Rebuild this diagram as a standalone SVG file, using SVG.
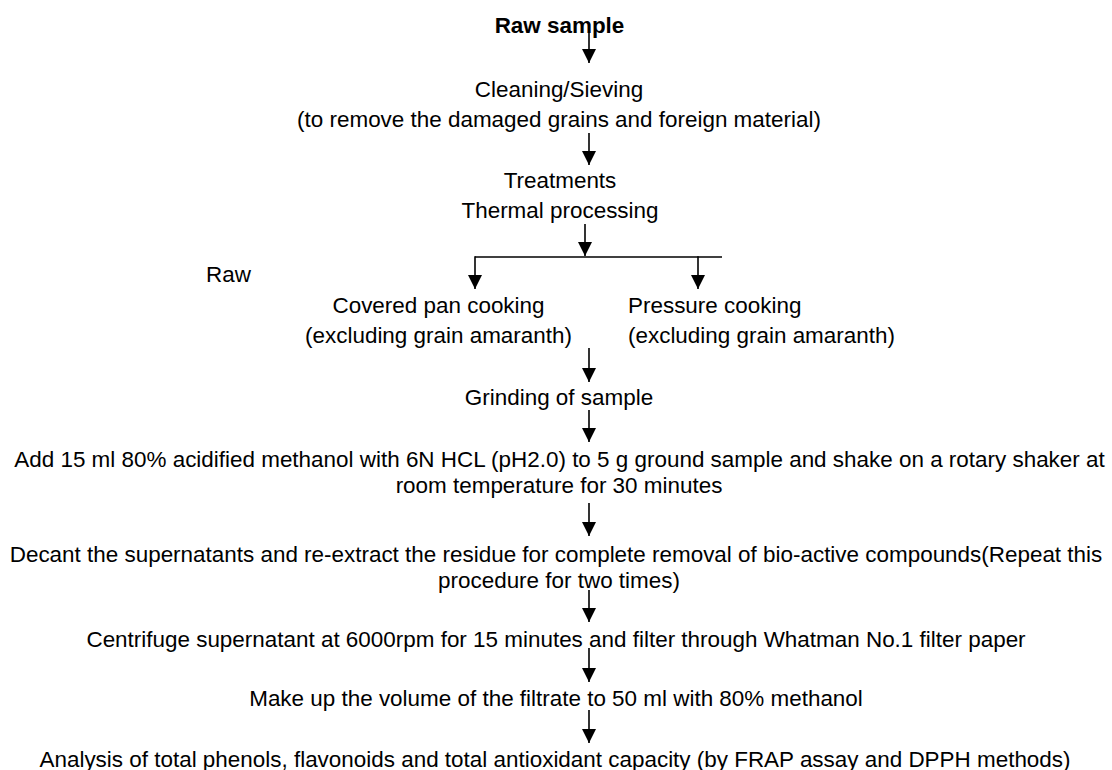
<svg xmlns="http://www.w3.org/2000/svg" width="1112" height="770" viewBox="0 0 1112 770">
<style>
text{font-family:"Liberation Sans",Arial,sans-serif;font-size:22.45px;fill:#000}
.c{text-anchor:middle}
.b{font-weight:bold}
.ln{stroke:#000;stroke-width:1.6;fill:none}
</style>
<defs>
<marker id="ah" markerUnits="userSpaceOnUse" markerWidth="14" markerHeight="14" refX="14" refY="7" orient="auto">
<path d="M0,0 L14,7 L0,14 Z" fill="#000"/>
</marker>
</defs>
<rect width="1112" height="770" fill="#fff"/>
<g id="connectors">
<line class="ln" x1="589" y1="28" x2="589" y2="63" marker-end="url(#ah)"/>
<line class="ln" x1="589" y1="133" x2="589" y2="165" marker-end="url(#ah)"/>
<line class="ln" x1="585" y1="224" x2="585" y2="256" marker-end="url(#ah)"/>
<line class="ln" x1="475" y1="257" x2="722" y2="257"/>
<line class="ln" x1="475" y1="256.2" x2="475" y2="289" marker-end="url(#ah)"/>
<line class="ln" x1="698" y1="256.2" x2="698" y2="289" marker-end="url(#ah)"/>
<line class="ln" x1="589" y1="348" x2="589" y2="382" marker-end="url(#ah)"/>
<line class="ln" x1="589" y1="410" x2="589" y2="442" marker-end="url(#ah)"/>
<line class="ln" x1="589" y1="503" x2="589" y2="536" marker-end="url(#ah)"/>
<line class="ln" x1="589" y1="590" x2="589" y2="622" marker-end="url(#ah)"/>
<line class="ln" x1="589" y1="648" x2="589" y2="682" marker-end="url(#ah)"/>
<line class="ln" x1="589" y1="710" x2="589" y2="743" marker-end="url(#ah)"/>
</g>
<g id="raw-sample"><text class="c b" x="559.5" y="33">Raw sample</text></g>
<g id="cleaning"><text class="c" x="559" y="97">Cleaning/Sieving</text><text class="c" x="559" y="127">(to remove the damaged grains and foreign material)</text></g>
<g id="treatments"><text class="c" x="560" y="188">Treatments</text><text class="c" x="560" y="218">Thermal processing</text></g>
<g id="raw"><text x="206" y="282">Raw</text></g>
<g id="covered-pan"><text class="c" x="438.5" y="313">Covered pan cooking</text><text class="c" x="438.5" y="343">(excluding grain amaranth)</text></g>
<g id="pressure"><text x="628" y="313">Pressure cooking</text><text x="628" y="343">(excluding grain amaranth)</text></g>
<g id="grinding"><text class="c" x="559" y="405">Grinding of sample</text></g>
<g id="add"><text class="c" x="559.5" y="467">Add 15 ml 80% acidified methanol with 6N HCL (pH2.0) to 5 g ground sample and shake on a rotary shaker at</text><text class="c" x="559" y="493">room temperature for 30 minutes</text></g>
<g id="decant"><text class="c" x="556" y="562">Decant the supernatants and re-extract the residue for complete removal of bio-active compounds(Repeat this</text><text class="c" x="559" y="588">procedure for two times)</text></g>
<g id="centrifuge"><text class="c" x="556" y="647">Centrifuge supernatant at 6000rpm for 15 minutes and filter through Whatman No.1 filter paper</text></g>
<g id="make-up"><text class="c" x="556" y="706">Make up the volume of the filtrate to 50 ml with 80% methanol</text></g>
<g id="analysis"><text class="c" x="555" y="767">Analysis of total phenols, flavonoids and total antioxidant capacity (by FRAP assay and DPPH methods)</text></g>
</svg>
